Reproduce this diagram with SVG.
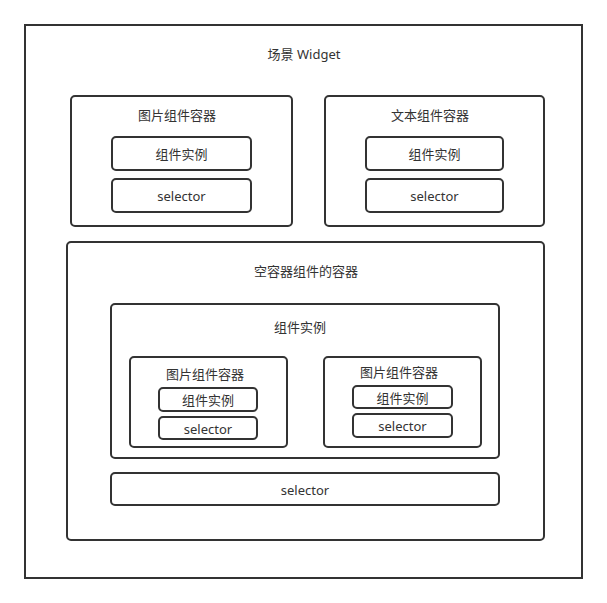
<svg xmlns="http://www.w3.org/2000/svg" width="607" height="603" viewBox="0 0 607 603">
<style>
.b{fill:#fff;stroke:#333;stroke-width:2}
.t{font-family:"Noto Sans","Noto Sans CJK SC",sans-serif;font-size:13px;fill:#333;text-anchor:middle;dominant-baseline:central}
</style>
<rect x="0" y="0" width="607" height="603" fill="#fff"/>
<g id="scene">
<rect class="b" x="25" y="25" width="557" height="553"/>
<text class="t" x="304" y="54">场景 Widget</text>
</g>
<g id="img-container">
<rect class="b" x="71" y="96" width="221" height="130" rx="4"/>
<text class="t" x="177" y="115">图片组件容器</text>
</g>
<g id="img-instance">
<rect class="b" x="112" y="137" width="139" height="33" rx="4"/>
<text class="t" x="181.5" y="153.5">组件实例</text>
</g>
<g id="img-selector">
<rect class="b" x="112" y="179" width="139" height="33" rx="4"/>
<text class="t" x="181.5" y="195.5">selector</text>
</g>
<g id="txt-container">
<rect class="b" x="325" y="96" width="219" height="130" rx="4"/>
<text class="t" x="430" y="115">文本组件容器</text>
</g>
<g id="txt-instance">
<rect class="b" x="366" y="137" width="137" height="33" rx="4"/>
<text class="t" x="434.5" y="153.5">组件实例</text>
</g>
<g id="txt-selector">
<rect class="b" x="366" y="179" width="137" height="33" rx="4"/>
<text class="t" x="434.5" y="195.5">selector</text>
</g>
<g id="empty-container">
<rect class="b" x="67" y="242" width="477" height="298" rx="4"/>
<text class="t" x="306" y="271">空容器组件的容器</text>
</g>
<g id="inner-instance">
<rect class="b" x="111" y="304" width="388" height="154" rx="4"/>
<text class="t" x="300" y="327">组件实例</text>
</g>
<g id="inner-img-left">
<rect class="b" x="130" y="357" width="157" height="90" rx="4"/>
<text class="t" x="205" y="374">图片组件容器</text>
</g>
<g id="inner-left-instance">
<rect class="b" x="159" y="388" width="98" height="23" rx="4"/>
<text class="t" x="208" y="400">组件实例</text>
</g>
<g id="inner-left-selector">
<rect class="b" x="159" y="417" width="98" height="22" rx="4"/>
<text class="t" x="208" y="428.5">selector</text>
</g>
<g id="inner-img-right">
<rect class="b" x="324" y="357" width="157" height="90" rx="4"/>
<text class="t" x="399" y="372">图片组件容器</text>
</g>
<g id="inner-right-instance">
<rect class="b" x="353" y="386" width="99" height="22" rx="4"/>
<text class="t" x="402.5" y="397.5">组件实例</text>
</g>
<g id="inner-right-selector">
<rect class="b" x="353" y="414" width="99" height="23" rx="4"/>
<text class="t" x="402.5" y="426">selector</text>
</g>
<g id="outer-selector">
<rect class="b" x="111" y="473" width="388" height="32" rx="4"/>
<text class="t" x="305" y="489.5">selector</text>
</g>
<g id="connectors"/>
</svg>
